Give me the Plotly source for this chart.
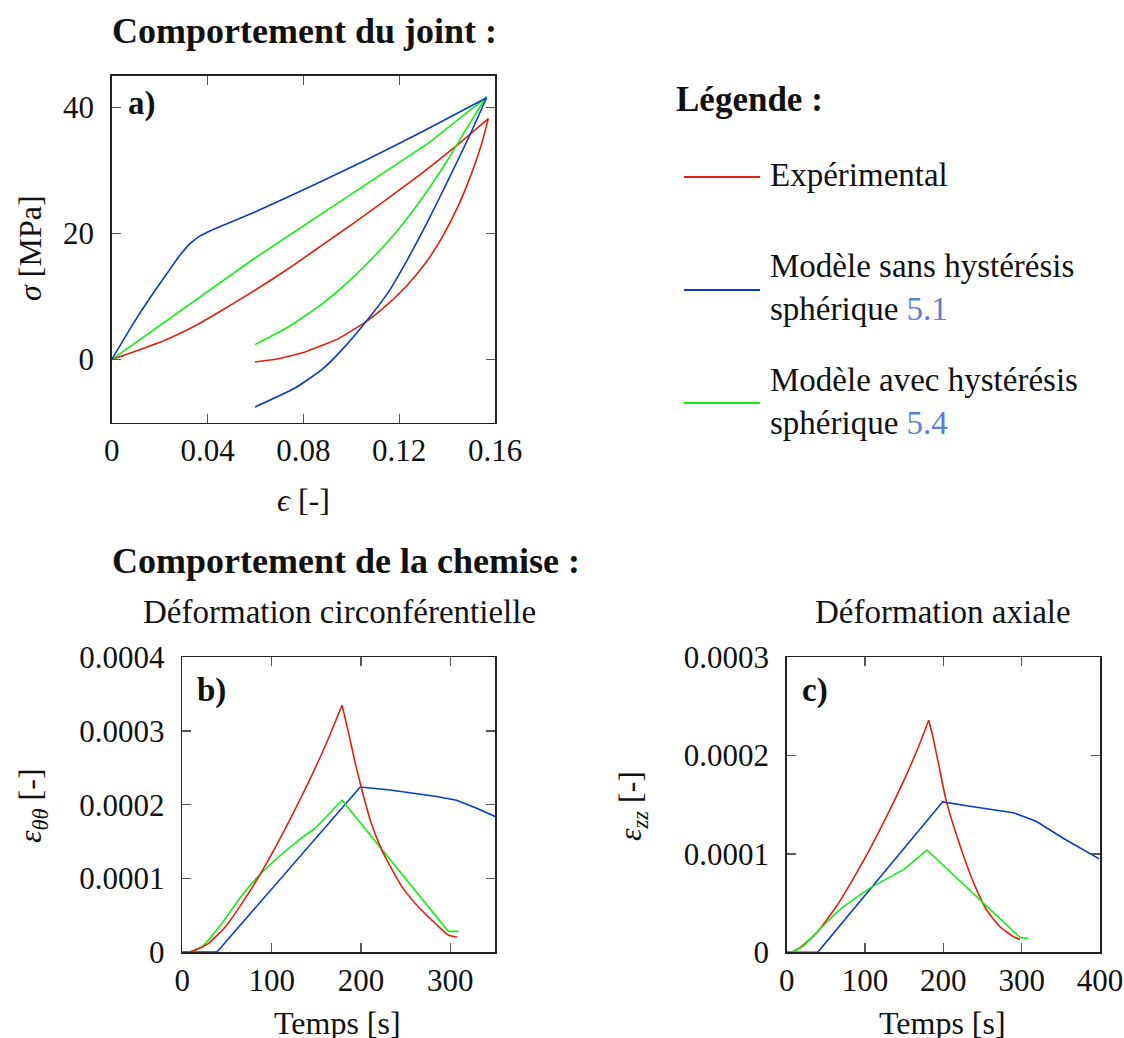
import plotly.graph_objects as go

W, H = 1124, 1038

# ---------------- data : a) joint behaviour (strain [-], stress [MPa]) ----------------
# loading branches
a_exp_load_eps = [0.0, 0.009, 0.023, 0.0341, 0.0438, 0.0598, 0.0737, 0.0877, 0.1016, 0.1155, 0.1294, 0.1433, 0.1572]
a_exp_load_sig = [0.0, 1.2, 3.2, 5.2, 7.3, 11.0, 14.4, 18.1, 21.8, 25.6, 29.5, 33.7, 38.2]
a_sans_load_eps = [0.0, 0.009, 0.016, 0.023, 0.028, 0.0325, 0.0369, 0.0410, 0.0466, 0.0536, 0.0598, 0.085, 0.106, 0.130, 0.1565]
a_sans_load_sig = [0.0, 5.7, 9.8, 13.6, 16.3, 18.3, 19.6, 20.4, 21.3, 22.4, 23.4, 27.8, 31.6, 36.2, 41.5]
a_avec_load_eps = [0.0, 0.0598, 0.1322, 0.1565]
a_avec_load_sig = [0.0, 16.1, 34.3, 41.6]
# unloading branches
a_exp_unl_eps = [0.1572, 0.1545, 0.1503, 0.1447, 0.1378, 0.1308, 0.1224, 0.1141, 0.1057, 0.0946, 0.0807, 0.0682, 0.0598]
a_exp_unl_sig = [38.2, 34.3, 29.6, 24.4, 19.3, 15.2, 11.4, 8.4, 5.9, 3.33, 1.21, 0.05, -0.38]
a_sans_unl_eps = [0.1565, 0.1489, 0.1405, 0.1322, 0.1238, 0.1155, 0.1057, 0.0960, 0.0877, 0.0765, 0.0598]
a_sans_unl_sig = [41.5, 35.1, 28.5, 22.1, 16.1, 10.7, 5.8, 1.5, -1.6, -4.51, -7.52]
a_avec_unl_eps = [0.1565, 0.1489, 0.1405, 0.1322, 0.1211, 0.1099, 0.0988, 0.0877, 0.0737, 0.0598]
a_avec_unl_sig = [41.7, 37.1, 31.8, 27.0, 21.3, 16.5, 12.35, 8.8, 5.16, 2.38]

# ---------------- data : b) circumferential strain (time [s], strain) ----------------
b_exp_load_t = [0, 8.6, 14.6, 29.5, 48.2, 66.8, 85.5, 104.1, 122.8, 141.5, 160.1, 178.8]
b_exp_load_e = [0, 0, 0.027e-4, 0.118e-4, 0.343e-4, 0.66e-4, 1.02e-4, 1.42e-4, 1.85e-4, 2.31e-4, 2.80e-4, 3.35e-4]
b_exp_unl_t = [178.8, 186.2, 193.6, 201.1, 210.1, 223.5, 232.5, 247.4, 266.0, 284.7, 297.8, 307.8]
b_exp_unl_e = [3.35e-4, 2.97e-4, 2.56e-4, 2.20e-4, 1.80e-4, 1.38e-4, 1.17e-4, 0.86e-4, 0.59e-4, 0.37e-4, 0.23e-4, 0.20e-4]

b_sans_t = [0, 38.8, 199.2, 232.5, 284.7, 307.0, 329.5, 350.0]
b_sans_e = [0, 0, 2.24e-4, 2.20e-4, 2.11e-4, 2.06e-4, 1.95e-4, 1.84e-4]

b_avec_load_t = [0, 8.0, 22.1, 44.4, 66.8, 89.2, 111.6, 130.3, 148.9]
b_avec_load_e = [0, 0.0, 0.072e-4, 0.39e-4, 0.77e-4, 1.08e-4, 1.33e-4, 1.52e-4, 1.68e-4]
b_avec_unl_t = [148.9, 178.8, 297.8, 309.0]
b_avec_unl_e = [1.68e-4, 2.06e-4, 0.28e-4, 0.28e-4]

# ---------------- data : c) axial strain (time [s], strain) ----------------
c_exp_load_t = [0, 5.0, 16.1, 37.4, 62.9, 84.3, 105.5, 126.8, 148.1, 169.3, 181.3]
c_exp_load_e = [0, 0.0, 0.041e-4, 0.19e-4, 0.46e-4, 0.74e-4, 1.04e-4, 1.37e-4, 1.72e-4, 2.11e-4, 2.36e-4]
c_exp_unl_t = [181.3, 186.4, 194.8, 203.4, 216.1, 228.9, 240.0, 255.3, 272.3, 289.4, 297.9]
c_exp_unl_e = [2.36e-4, 2.20e-4, 1.88e-4, 1.55e-4, 1.21e-4, 0.91e-4, 0.68e-4, 0.43e-4, 0.26e-4, 0.16e-4, 0.13e-4]

c_sans_t = [0, 39.6, 199.2, 229.8, 289.4, 319.0, 353.0, 399.0]
c_sans_e = [0, 0, 1.53e-4, 1.49e-4, 1.42e-4, 1.33e-4, 1.16e-4, 0.95e-4]

c_avec_load_t = [0, 5.0, 20.4, 41.6, 67.2, 105.5]
c_avec_load_e = [0, 0.0, 0.057e-4, 0.23e-4, 0.43e-4, 0.65e-4]
c_avec_unl_t = [105.5, 150.1, 179.1, 297.9, 308.5]
c_avec_unl_e = [0.65e-4, 0.845e-4, 1.04e-4, 0.15e-4, 0.14e-4]

# ---------------- ticks ----------------
a_xticks = [0, 0.04, 0.08, 0.12, 0.16]
a_xtext = ["0", "0.04", "0.08", "0.12", "0.16"]
a_yticks = [0, 20, 40]
b_xticks = [0, 100, 200, 300]
b_yticks = [0, 0.0001, 0.0002, 0.0003, 0.0004]
b_ytext = ["0", "0.0001", "0.0002", "0.0003", "0.0004"]
c_xticks = [0, 100, 200, 300, 400]
c_yticks = [0, 0.0001, 0.0002, 0.0003]
c_ytext = ["0", "0.0001", "0.0002", "0.0003"]

series_names = ["Expérimental", "Modèle sans hystérésis sphérique 5.1", "Modèle avec hystérésis sphérique 5.4"]
RED, BLUE, GREEN = "#e0200e", "#0b3bc4", "#14ee14"
REF_BLUE = "#5b80cf"

FONT = "Liberation Serif, Times New Roman, serif"
FS = 31
LW = 1.6


def px(x):
    return x / W


def py(y):
    return 1 - y / H


fig = go.Figure()

segments = [
    # (x, y, color, name, shape, xaxis, yaxis)
    (a_exp_load_eps, a_exp_load_sig, RED, series_names[0], "spline", "x", "y"),
    (a_exp_unl_eps, a_exp_unl_sig, RED, series_names[0], "spline", "x", "y"),
    (a_avec_load_eps, a_avec_load_sig, GREEN, series_names[2], "linear", "x", "y"),
    (a_avec_unl_eps, a_avec_unl_sig, GREEN, series_names[2], "spline", "x", "y"),
    (a_sans_load_eps, a_sans_load_sig, BLUE, series_names[1], "spline", "x", "y"),
    (a_sans_unl_eps, a_sans_unl_sig, BLUE, series_names[1], "spline", "x", "y"),

    (b_sans_t, b_sans_e, BLUE, series_names[1], "linear", "x2", "y2"),
    (b_avec_load_t, b_avec_load_e, GREEN, series_names[2], "spline", "x2", "y2"),
    (b_avec_unl_t, b_avec_unl_e, GREEN, series_names[2], "linear", "x2", "y2"),
    (b_exp_load_t, b_exp_load_e, RED, series_names[0], "spline", "x2", "y2"),
    (b_exp_unl_t, b_exp_unl_e, RED, series_names[0], "spline", "x2", "y2"),

    (c_sans_t, c_sans_e, BLUE, series_names[1], "linear", "x3", "y3"),
    (c_exp_load_t, c_exp_load_e, RED, series_names[0], "spline", "x3", "y3"),
    (c_exp_unl_t, c_exp_unl_e, RED, series_names[0], "spline", "x3", "y3"),
    (c_avec_load_t, c_avec_load_e, GREEN, series_names[2], "spline", "x3", "y3"),
    (c_avec_unl_t, c_avec_unl_e, GREEN, series_names[2], "linear", "x3", "y3"),
]
for xs, ys, col, name, shp, xa, ya in segments:
    line = dict(color=col, width=LW, shape=shp)
    if shp == "spline":
        line["smoothing"] = 0.5
    fig.add_trace(go.Scatter(x=xs, y=ys, mode="lines", name=name, showlegend=False, hoverinfo="skip",
                             line=line, xaxis=xa, yaxis=ya))

axis_common = dict(showline=True, mirror="allticks", linecolor="#222", linewidth=1.5,
                   ticks="inside", ticklen=9, tickwidth=1.2, tickcolor="#555",
                   showgrid=False, zeroline=False, automargin=False,
                   tickfont=dict(family=FONT, size=FS, color="#111"))

fig.update_layout(
    width=W, height=H, margin=dict(l=0, r=0, t=0, b=0, autoexpand=False),
    paper_bgcolor="white", plot_bgcolor="white",
    showlegend=False,
    font=dict(family=FONT, size=FS, color="#111"),
    xaxis=dict(domain=[px(111.7), px(495)], range=[0, 0.16], tickvals=a_xticks, ticktext=a_xtext,
               anchor="y", ticklabelstandoff=0, **axis_common),
    yaxis=dict(domain=[py(422.7), py(75.7)], range=[-10, 45], tickvals=a_yticks,
               anchor="x", ticklabelstandoff=10, **axis_common),
    xaxis2=dict(domain=[px(182.3), px(495)], range=[0, 350], tickvals=b_xticks,
                anchor="y2", ticklabelstandoff=0, **axis_common),
    yaxis2=dict(domain=[py(952), py(657.3)], range=[0, 0.0004], tickvals=b_yticks, ticktext=b_ytext,
                anchor="x2", ticklabelstandoff=10, **axis_common),
    xaxis3=dict(domain=[px(786.7), px(1100)], range=[0, 400], tickvals=c_xticks,
                anchor="y3", ticklabelstandoff=0, **axis_common),
    yaxis3=dict(domain=[py(952.3), py(657.3)], range=[0, 0.0003], tickvals=c_yticks, ticktext=c_ytext,
                anchor="x3", ticklabelstandoff=10, **axis_common),
)

ann = []


def text(x, y, s, size=FS, xanchor="center", yanchor="middle", angle=0, bold=False, align="left"):
    if bold:
        s = "<b>" + s + "</b>"
    ann.append(dict(x=px(x), y=py(y), xref="paper", yref="paper", text=s, showarrow=False,
                    xanchor=xanchor, yanchor=yanchor, textangle=angle, align=align,
                    font=dict(family=FONT, size=size, color="#111")))


# section titles
text(110, 31, "Comportement du joint :", size=36, xanchor="left", bold=True)
text(110, 561, "Comportement de la chemise :", size=36, xanchor="left", bold=True)
text(339, 612, "Déformation circonférentielle", size=33)
text(943, 612, "Déformation axiale", size=33)

# panel labels
text(126, 103, "a)", size=33, xanchor="left", bold=True)
text(195, 690, "b)", size=33, xanchor="left", bold=True)
text(800, 690, "c)", size=33, xanchor="left", bold=True)

# axis titles
text(303, 500, "<i>ϵ</i> [-]", size=32)
text(30, 248, "<i>σ</i> [MPa]", size=32, angle=-90)
text(337, 1023, "Temps [s]", size=32)
text(942, 1023, "Temps [s]", size=32)
text(32, 806, "<i>ε</i><sub><i>θθ</i></sub> [-]", size=32, angle=-90)
text(632, 806, "<i>ε</i><sub><i>zz</i></sub> [-]", size=32, angle=-90)

# legend block
text(674, 100, "Légende :", size=35, xanchor="left", bold=True)
legend_rows = [
    (177, RED, series_names[0]),
    (290, BLUE, "Modèle sans hystérésis<br>sphérique <span style='color:%s'>5.1</span>" % REF_BLUE),
    (403, GREEN, "Modèle avec hystérésis<br>sphérique <span style='color:%s'>5.4</span>" % REF_BLUE),
]
shapes = []
for yy, col, label in legend_rows:
    shapes.append(dict(type="line", xref="paper", yref="paper", x0=px(684), x1=px(760), y0=py(yy), y1=py(yy),
                       line=dict(color=col, width=2)))
    text(768, yy - 2, label, size=33, xanchor="left")

fig.update_layout(annotations=ann, shapes=shapes)
fig.write_html("out.html", config={"displayModeBar": False, "staticPlot": True},
               post_script="document.body.style.margin='0';")
